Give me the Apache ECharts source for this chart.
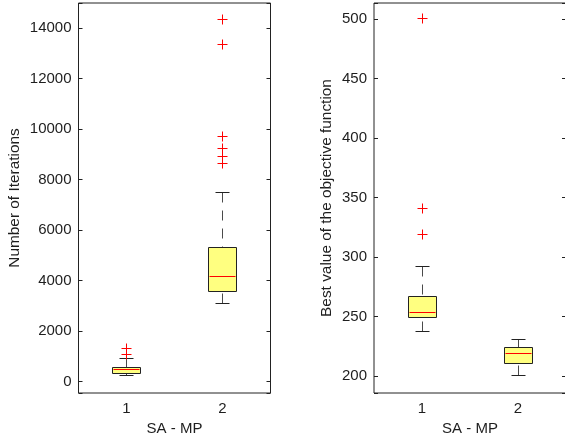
<!DOCTYPE html>
<html><head><meta charset="utf-8">
<script src="https://cdn.jsdelivr.net/npm/echarts@6/dist/echarts.min.js"></script>
<style>html,body{margin:0;padding:0;background:#fff}#c{width:565px;height:437px}</style>
</head><body><div id="c"></div>
<script>
const categories = ['1', '2'];
// [lower whisker, Q1, median, Q3, upper whisker]
const iterBoxes = [[214, 293, 452, 570, 888], [3078, 3566, 4160, 5309, 7476]];
const iterOutliers1 = [1058, 1284];
const iterOutliers2 = [8625, 8903, 9219, 9683, 13340, 14330];
const objBoxes = [[237.4, 249.5, 253.7, 266.8, 292], [200, 210.9, 219.3, 224.3, 230.5]];
const objOutliers1 = [318.6, 340.5, 500];
const objOutliers2 = [];
const iterRange = [-460, 14990];
const objRange = [185.7, 513.4];
const iterTickStep = 2000;
const objTickStep = 50;

const FONT = "'Liberation Sans', Arial, sans-serif";
const TXT = '#1e1e1e';

function crisp(v) { return Math.round(v - 0.5) + 0.5; }

function boxRender(params, api) {
  const c = api.value(0);
  const vals = [1, 2, 3, 4, 5].map(k => api.value(k));
  const band = api.size([1, 0])[0];
  const cx = crisp(api.coord([c, vals[0]])[0]);
  const y = vals.map(v => crisp(api.coord([c, v])[1]));
  const hw = Math.round(band * 0.15);
  const cw = Math.round(band * 0.077);
  const dash = { stroke: '#4a4a4a', lineWidth: 1, lineDash: [10, 8] };
  const solid = { stroke: '#222', lineWidth: 1 };
  return {
    type: 'group', children: [
      { type: 'line', shape: { x1: cx, y1: y[4], x2: cx, y2: y[3] }, style: dash },
      { type: 'line', shape: { x1: cx, y1: y[0], x2: cx, y2: y[1] }, style: dash },
      { type: 'line', shape: { x1: cx - cw, y1: y[4], x2: cx + cw, y2: y[4] }, style: solid },
      { type: 'line', shape: { x1: cx - cw, y1: y[0], x2: cx + cw, y2: y[0] }, style: solid },
      { type: 'rect', shape: { x: cx - hw, y: y[3], width: 2 * hw, height: y[1] - y[3] },
        style: { fill: '#ffff80', stroke: '#222', lineWidth: 1 } },
      { type: 'line', shape: { x1: cx - hw + 1, y1: y[2], x2: cx + hw - 1, y2: y[2] },
        style: { stroke: '#ff0000', lineWidth: 1 } }
    ]
  };
}

function plusRender(params, api) {
  const p = api.coord([api.value(0), api.value(1)]);
  const x = crisp(p[0]), y = crisp(p[1]);
  const h = 5;
  const st = { stroke: '#ff0000', lineWidth: 1 };
  return {
    type: 'group', children: [
      { type: 'line', shape: { x1: x - h, y1: y, x2: x + h, y2: y }, style: st },
      { type: 'line', shape: { x1: x, y1: y - h, x2: x, y2: y + h }, style: st }
    ]
  };
}

function outlierData(a1, a2) {
  return a1.map(v => [0, v]).concat(a2.map(v => [1, v]));
}

function yAxes(gridIndex, range, step, name, gap) {
  const fmt = v => (Math.abs(v / step - Math.round(v / step)) < 1e-6 ? String(Math.round(v)) : '');
  return [{
    type: 'value', gridIndex, min: range[0], max: range[1], splitNumber: 7, position: 'left',
    name, nameLocation: 'middle', nameGap: gap,
    nameTextStyle: { fontFamily: FONT, fontSize: 15.4, color: TXT },
    axisLine: { show: false }, splitLine: { show: false },
    axisTick: { show: true, inside: true, length: 4, lineStyle: { color: '#222' } },
    axisLabel: { fontFamily: FONT, fontSize: 15, color: TXT, margin: 7, formatter: fmt,
      showMinLabel: true, showMaxLabel: true }
  }, {
    type: 'value', gridIndex, min: range[0], max: range[1], splitNumber: 7, position: 'right',
    axisLine: { show: false }, splitLine: { show: false },
    axisTick: { show: true, inside: true, length: 4, lineStyle: { color: '#222' } },
    axisLabel: { show: false }
  }];
}

function xAxis(gridIndex) {
  return {
    type: 'category', gridIndex, data: categories, boundaryGap: true,
    name: 'SA - MP', nameLocation: 'middle', nameGap: 22,
    nameTextStyle: { fontFamily: FONT, fontSize: 15, color: TXT },
    axisLine: { show: false }, axisTick: { show: false }, splitLine: { show: false },
    axisLabel: { fontFamily: FONT, fontSize: 15, color: TXT, margin: 8 }
  };
}

const chart = echarts.init(document.getElementById('c'), null, { renderer: 'canvas' });
chart.setOption({
  backgroundColor: '#fff',
  animation: false,
  grid: [
    { left: 78.5, top: 3, width: 192, height: 390, show: true, borderColor: '#222', borderWidth: 1,
      backgroundColor: 'transparent', containLabel: false, outerBoundsMode: 'none' },
    { left: 374, top: 3, width: 192, height: 390, show: true, borderColor: '#222', borderWidth: 1,
      backgroundColor: 'transparent', containLabel: false, outerBoundsMode: 'none' }
  ],
  xAxis: [xAxis(0), xAxis(1)],
  yAxis: yAxes(0, iterRange, iterTickStep, 'Number of Iterations', 56)
    .concat(yAxes(1, objRange, objTickStep, 'Best value of the objective function', 40)),
  series: [
    { type: 'custom', xAxisIndex: 0, yAxisIndex: 0, renderItem: boxRender,
      encode: { x: 0, y: [1, 2, 3, 4, 5] }, data: iterBoxes.map((b, i) => [i].concat(b)) },
    { type: 'custom', xAxisIndex: 0, yAxisIndex: 0, renderItem: plusRender,
      encode: { x: 0, y: 1 }, data: outlierData(iterOutliers1, iterOutliers2) },
    { type: 'custom', xAxisIndex: 1, yAxisIndex: 2, renderItem: boxRender,
      encode: { x: 0, y: [1, 2, 3, 4, 5] }, data: objBoxes.map((b, i) => [i].concat(b)) },
    { type: 'custom', xAxisIndex: 1, yAxisIndex: 2, renderItem: plusRender,
      encode: { x: 0, y: 1 }, data: outlierData(objOutliers1, objOutliers2) }
  ]
});
</script>
</body></html>
